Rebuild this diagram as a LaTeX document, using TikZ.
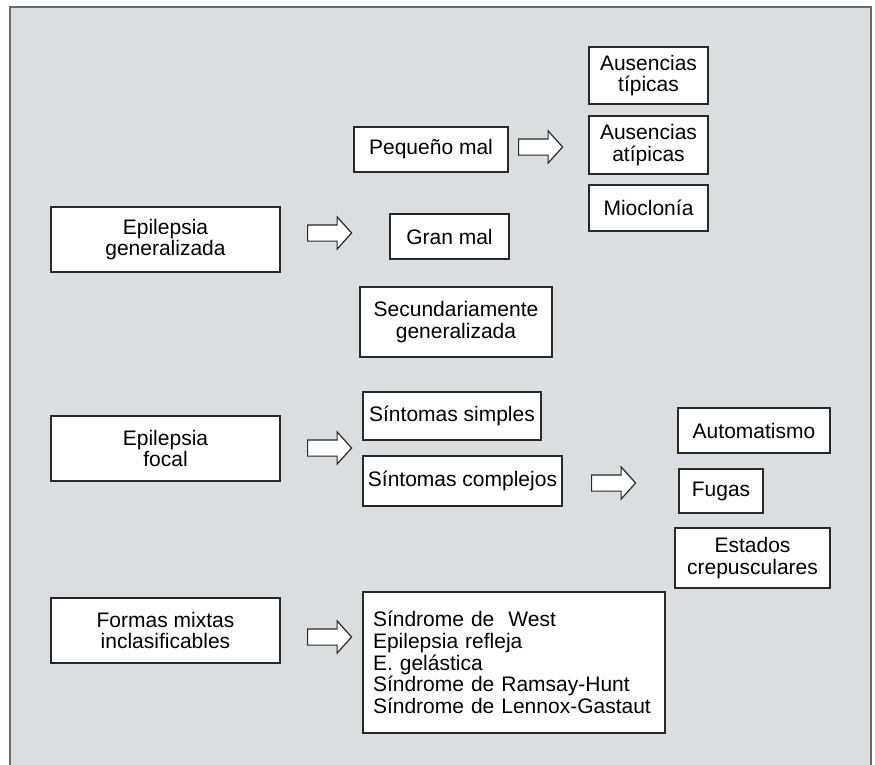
\documentclass[tikz,border=0pt]{standalone}
\usepackage{fontspec}
\setmainfont{Liberation Sans}
\usetikzlibrary{shapes.arrows}
\definecolor{fondo}{RGB}{220,221,224}
\definecolor{borde}{RGB}{40,40,40}
\definecolor{marco}{RGB}{105,105,105}
\begin{document}
\begin{tikzpicture}[x=1pt,y=-1pt,
caja/.style={draw=borde, fill=white, line width=1.5pt, align=center, inner sep=0pt, font=\fontsize{21}{21.7}\selectfont},
flecha/.style={single arrow, draw=borde, fill=white, line width=1.2pt, minimum height=44pt, inner sep=7.5pt, single arrow head extend=8pt, single arrow tip angle=96, anchor=tail}]
\useasboundingbox (0,0) rectangle (875,764);
\fill[fondo] (10,7) rectangle (871,790);
\draw[marco, line width=1.5pt] (10,790) -- (10,7) -- (871,7) -- (871,790);
\node[caja, minimum width=229pt, minimum height=65pt] (gen) at (165.5,239.5){Epilepsia\\generalizada};
\node[caja, minimum width=229pt, minimum height=65pt] (focal) at (165.5,448.5){Epilepsia\\focal};
\node[caja, minimum width=229pt, minimum height=65pt] (mixtas) at (165.5,630.5){Formas mixtas\\inclasificables};
\node[caja, minimum width=154pt, minimum height=45pt] (peq) at (431,149.5){Pequeño mal};
\node[caja, minimum width=119pt, minimum height=45pt] (gran) at (449.5,236.5){Gran mal};
\node[caja, minimum width=192pt, minimum height=70pt] (secun) at (456,322){Secundariamente\\generalizada};
\node[caja, minimum width=119pt, minimum height=57pt] (tipicas) at (648.5,75.5){Ausencias\\típicas};
\node[caja, minimum width=119pt, minimum height=58pt] (atipicas) at (648.5,145){Ausencias\\atípicas};
\node[caja, minimum width=119pt, minimum height=46pt] (mioc) at (648.5,208){Mioclonía};
\node[caja, minimum width=178pt, minimum height=48pt] (simples) at (452,416){Síntomas simples};
\node[caja, minimum width=199pt, minimum height=50pt] (complejos) at (462.5,481){Síntomas complejos};
\node[caja, minimum width=152pt, minimum height=45pt] (autom) at (754,430.5){Automatismo};
\node[caja, minimum width=84pt, minimum height=44pt] (fugas) at (721,491){Fugas};
\node[caja, minimum width=155pt, minimum height=60pt] (estados) at (752.5,558){Estados\\crepusculares};
\node[caja, minimum width=302pt, minimum height=141pt, text width=282pt, inner xsep=10pt, align=left] (lista) at (514,662.5){Síndrome de~ West\\Epilepsia refleja\\E. gelástica\\Síndrome de Ramsay-Hunt\\Síndrome de Lennox-Gastaut};
\node[flecha] (fgen) at (307,233){};
\node[flecha] (fpeq) at (518,147){};
\node[flecha] (ffocal) at (307,448){};
\node[flecha] (fcomp) at (591,483){};
\node[flecha] (fmixtas) at (307,637){};
\end{tikzpicture}
\end{document}
